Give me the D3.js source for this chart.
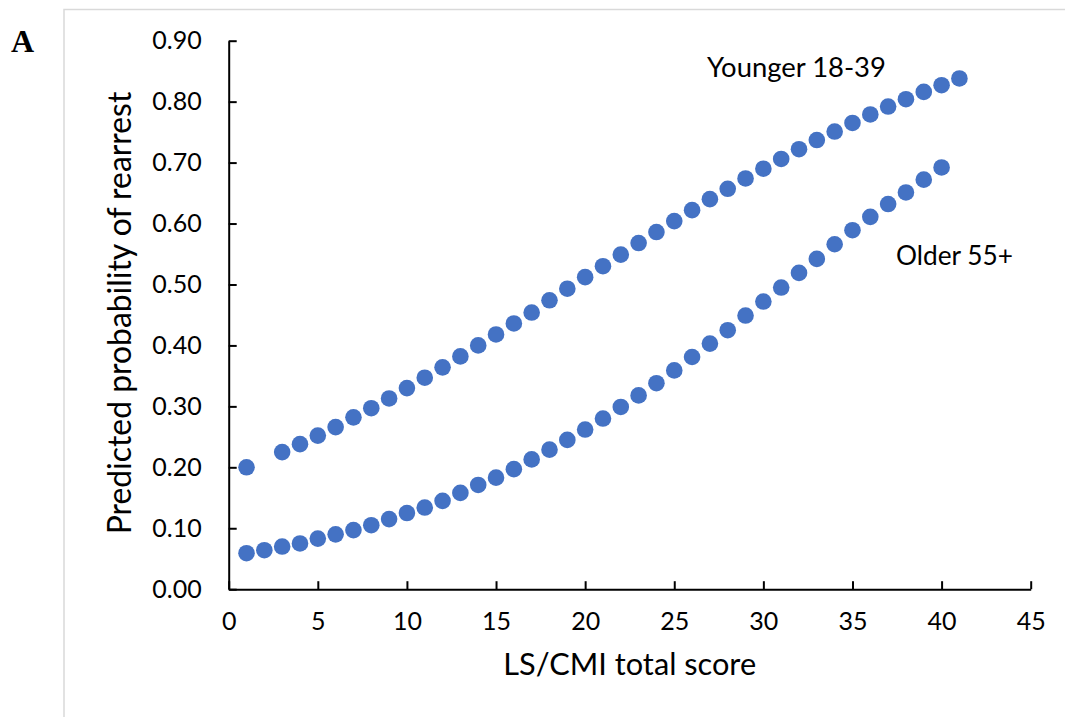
<!DOCTYPE html>
<html>
<head>
<meta charset="utf-8">
<script src="https://cdn.jsdelivr.net/npm/d3@7"></script>
<style>
  body { margin: 0; background: #fff; }
  text { font-family: Lato, "Open Sans", sans-serif; fill: #000; }
</style>
</head>
<body>
<svg id="chart"></svg>
<script>
// LS/CMI total score on x, predicted probability on y
const youngerX = [1, 3, 4, 5, 6, 7, 8, 9, 10, 11, 12, 13, 14, 15, 16, 17, 18, 19, 20, 21,
                  22, 23, 24, 25, 26, 27, 28, 29, 30, 31, 32, 33, 34, 35, 36, 37, 38, 39, 40, 41];
const youngerY = [0.200, 0.225, 0.238, 0.252, 0.266, 0.282, 0.297, 0.313, 0.330, 0.347,
                  0.364, 0.382, 0.400, 0.418, 0.436, 0.454, 0.474, 0.493, 0.512, 0.530,
                  0.549, 0.568, 0.586, 0.604, 0.622, 0.640, 0.657, 0.674, 0.690, 0.706,
                  0.722, 0.737, 0.751, 0.765, 0.779, 0.792, 0.804, 0.816, 0.827, 0.838];

const olderX = d3.range(1, 41);
const olderY = [0.059, 0.064, 0.070, 0.075, 0.083, 0.090, 0.097, 0.105, 0.115, 0.125,
                0.134, 0.145, 0.158, 0.171, 0.183, 0.197, 0.213, 0.229, 0.245, 0.262,
                0.280, 0.299, 0.318, 0.338, 0.359, 0.381, 0.403, 0.425, 0.449, 0.472,
                0.495, 0.519, 0.542, 0.566, 0.589, 0.611, 0.632, 0.651, 0.672, 0.692];

const xTicks = [0, 5, 10, 15, 20, 25, 30, 35, 40, 45];
const yTicks = [0, 0.1, 0.2, 0.3, 0.4, 0.5, 0.6, 0.7, 0.8, 0.9];

const width = 1065, height = 717;
const svg = d3.select('#chart').attr('width', width).attr('height', height);

// scale a text's font so it spans the width seen in the original
const fit = (sel, w) => {
  let fs = parseFloat(sel.style('font-size'));
  let len = sel.node().getComputedTextLength();
  sel.style('font-size', (fs * w / len) + 'px');
};

// light frame of the figure panel
svg.append('path')
    .attr('d', `M64,${height} V9.5 H${width}`)
    .attr('fill', 'none')
    .attr('stroke', '#d9d9d9')
    .attr('stroke-width', 1.5);

svg.append('text')
    .text('A')
    .attr('x', 11)
    .attr('y', 52)
    .style('font-family', '"Liberation Serif", serif')
    .style('font-weight', 'bold')
    .style('font-size', '32px');

let xScale = d3.scaleLinear()
                .domain([0, 45])
                .range([228.7, 1030.7]);

let yScale = d3.scaleLinear()
                .domain([0, 0.9])
                .range([589.2, 40.7]);

let xAxis = d3.axisBottom(xScale)
                .tickValues(xTicks)
                .tickSizeInner(-8)
                .tickSizeOuter(0)
                .tickPadding(23);

let yAxis = d3.axisLeft(yScale)
                .tickValues(yTicks)
                .tickFormat(d3.format('.2f'))
                .tickSizeInner(-8)
                .tickSizeOuter(0)
                .tickPadding(27);

let gx = svg.append('g')
    .attr('transform', `translate(0, ${yScale(0)})`)
    .call(xAxis);

let gy = svg.append('g')
    .attr('transform', `translate(${xScale(0)}, 0)`)
    .call(yAxis);

[gx, gy].forEach(g => {
  g.selectAll('path, line').attr('stroke', '#000').attr('stroke-width', 2);
  g.selectAll('text')
    .style('font-family', 'Lato, "Open Sans", sans-serif')
    .style('font-size', '25px')
    .attr('fill', '#000');
});

const younger = youngerX.map((x, i) => ({x: x, y: youngerY[i]}));
const older = olderX.map((x, i) => ({x: x, y: olderY[i]}));

svg.append('g')
    .selectAll('circle')
    .data(younger.concat(older))
    .enter()
    .append('circle')
    .attr('cx', d => xScale(d.x))
    .attr('cy', d => yScale(d.y))
    .attr('r', 8.3)
    .attr('fill', '#4472C4');

let yTitle = svg.append('text')
    .text('Predicted probability of rearrest')
    .attr('text-anchor', 'middle')
    .attr('transform', 'translate(131, 313) rotate(-90)')
    .style('font-size', '28px');
fit(yTitle, 443);

let xTitle = svg.append('text')
    .text('LS/CMI total score')
    .attr('text-anchor', 'middle')
    .attr('x', (xScale(0) + xScale(45)) / 2)
    .attr('y', 675)
    .style('font-size', '28px');
fit(xTitle, 253);

let lblYoung = svg.append('text')
    .text('Younger 18-39')
    .attr('x', 707)
    .attr('y', 77)
    .style('font-size', '26px');
fit(lblYoung, 179);

let lblOld = svg.append('text')
    .text('Older 55+')
    .attr('x', 896)
    .attr('y', 265)
    .style('font-size', '26px');
fit(lblOld, 117);
</script>
</body>
</html>
